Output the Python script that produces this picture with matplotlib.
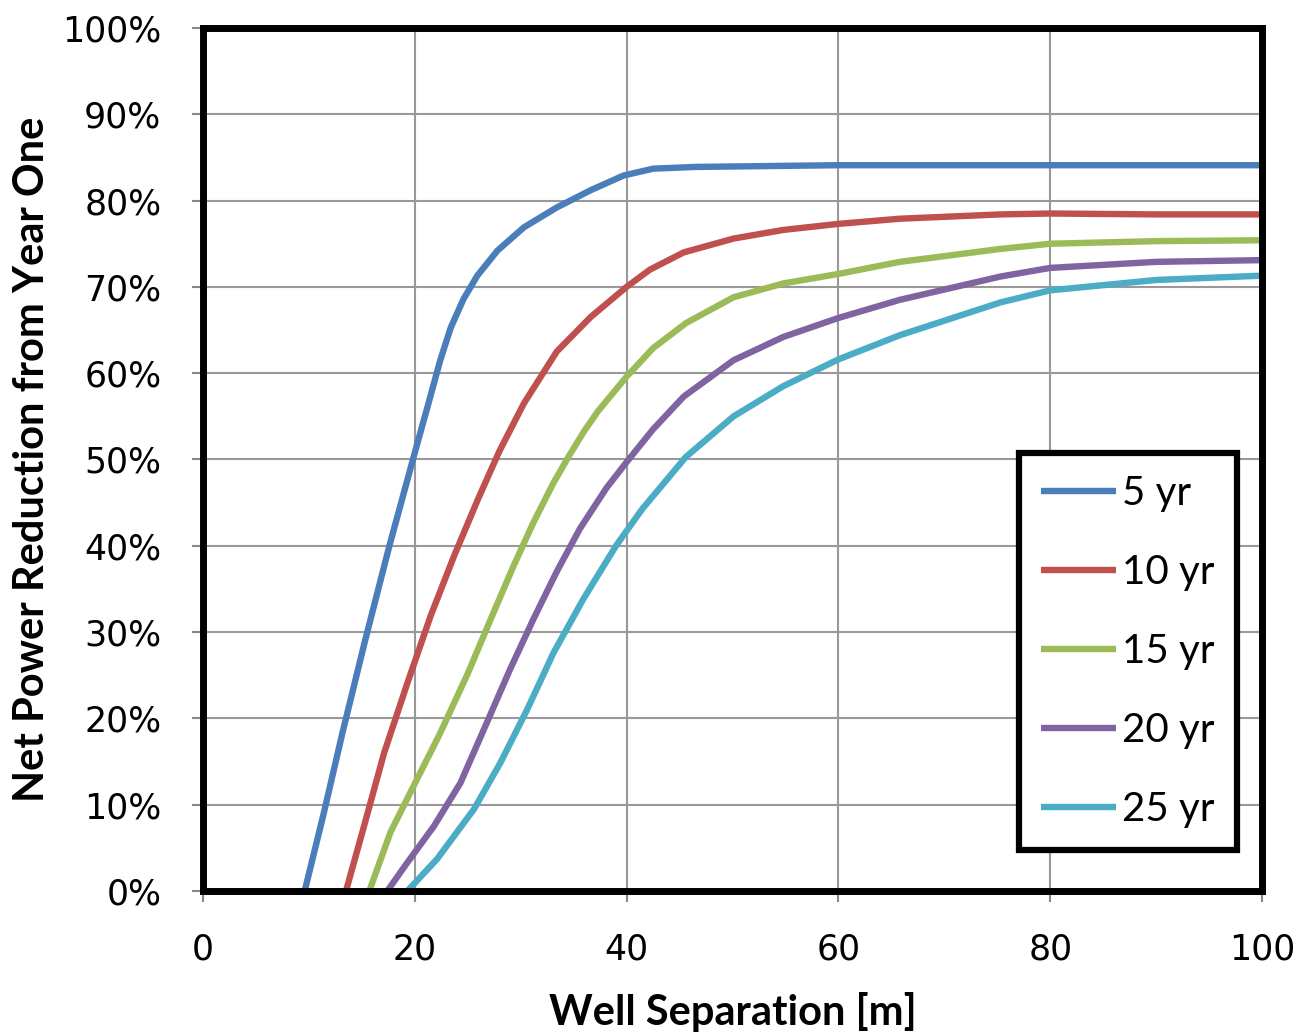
import numpy as np
import matplotlib.pyplot as plt
from matplotlib.ticker import PercentFormatter

# 读取的曲线数据 (井距 m, 净功率下降 %)
x_5yr = [9.6, 11.4, 13.2, 15.3, 17.6, 20.0, 21.4, 22.4, 23.4, 24.6, 25.9, 27.8, 30.3,
         33.4, 36.6, 39.7, 42.5, 46.5, 60, 80, 100]
y_5yr = [0, 9, 18.5, 29, 40, 50.8, 57, 61.5, 65.3, 68.6, 71.3, 74.2, 76.9,
         79.2, 81.2, 82.9, 83.7, 83.9, 84.1, 84.1, 84.1]

x_10yr = [13.5, 15.2, 17.1, 19.3, 21.5, 23.7, 26.0, 28.0, 30.3, 33.4, 36.6, 40, 42.2, 45.4,
          50.1, 54.8, 60, 65.8, 75.3, 80, 90, 100]
y_10yr = [0, 7.5, 16.0, 24.1, 31.9, 38.8, 45.5, 51.0, 56.5, 62.5, 66.5, 70.0, 72.0, 74.0,
          75.6, 76.6, 77.3, 77.9, 78.4, 78.5, 78.4, 78.4]

x_15yr = [15.7, 17.7, 19.9, 22.4, 25.0, 27.1, 29.3, 31.2, 33.1, 34.6, 36.0, 37.3, 40, 42.5, 45.6,
          50.1, 54.8, 60, 65.8, 75.3, 80, 90, 100]
y_15yr = [0, 6.8, 12.2, 18.3, 25.2, 31.3, 37.6, 42.7, 47.3, 50.5, 53.3, 55.6, 59.6, 62.9, 65.8,
          68.8, 70.4, 71.5, 72.9, 74.4, 75.0, 75.3, 75.4]

x_20yr = [17.4, 19.3, 21.8, 24.3, 26.8, 29.0, 31.2, 33.4, 35.6, 38.1, 40, 42.5, 45.4, 50.1,
          54.8, 60, 65.8, 75.3, 80, 90, 100]
y_20yr = [0, 3.3, 7.5, 12.5, 19.5, 25.7, 31.5, 37.0, 42.0, 46.7, 49.7, 53.5, 57.3, 61.5,
          64.2, 66.4, 68.5, 71.2, 72.2, 72.9, 73.1]

x_25yr = [19.3, 22.1, 25.6, 28.1, 30.6, 33.1, 35.9, 39.0, 41.5, 45.6, 50.1, 54.8, 60, 65.8,
          75.3, 80, 90, 100]
y_25yr = [0, 3.7, 9.5, 14.9, 21.0, 27.6, 33.8, 40.0, 44.3, 50.3, 55.0, 58.5, 61.6, 64.4,
          68.2, 69.6, 70.8, 71.3]

series = [
    ('5 yr', x_5yr, y_5yr, '#4A7EBB'),
    ('10 yr', x_10yr, y_10yr, '#C0504D'),
    ('15 yr', x_15yr, y_15yr, '#9BBB59'),
    ('20 yr', x_20yr, y_20yr, '#8064A2'),
    ('25 yr', x_25yr, y_25yr, '#4BACC6'),
]

fig = plt.figure(figsize=(12.99, 10.33), dpi=100)
ax = fig.add_axes([0.1563, 0.1375, 0.8152, 0.8354])

for label, xs, ys, color in series:
    ax.plot(xs, ys, color=color, lw=4.6, label=label, solid_joinstyle='round',
            solid_capstyle='butt', zorder=3)

ax.set_xlim(0, 100)
ax.set_ylim(0, 100)
ax.set_xticks(np.arange(0, 101, 20))
ax.set_yticks(np.arange(0, 101, 10))
ax.yaxis.set_major_formatter(PercentFormatter(decimals=0))
ax.grid(True, color='#999999', lw=1.5)
ax.set_axisbelow(True)

for s in ax.spines.values():
    s.set_linewidth(5)
    s.set_color('black')
    s.set_zorder(4)

ax.tick_params(axis='both', direction='out', length=8, width=1.5, color='#888888',
               labelsize=25, pad=22)
for t in ax.get_xticklabels() + ax.get_yticklabels():
    t.set_family('DejaVu Sans')

ax.set_xlabel('Well Separation [m]', fontsize=30, fontweight='bold', family='Lato', labelpad=18)
ax.set_ylabel('Net Power Reduction from Year One', fontsize=30, fontweight='bold',
              family='Lato', labelpad=8)

leg = ax.legend(loc='lower right', bbox_to_anchor=(0.976, 0.0475),
                prop={'family': 'Lato', 'size': 29}, frameon=True, fancybox=False,
                handlelength=1.85, handletextpad=0.15, labelspacing=1.04,
                borderpad=0.55, borderaxespad=0)
leg.get_frame().set_edgecolor('black')
leg.get_frame().set_linewidth(4.5)
leg.get_frame().set_alpha(1)

fig.savefig('out.png', dpi=100)
